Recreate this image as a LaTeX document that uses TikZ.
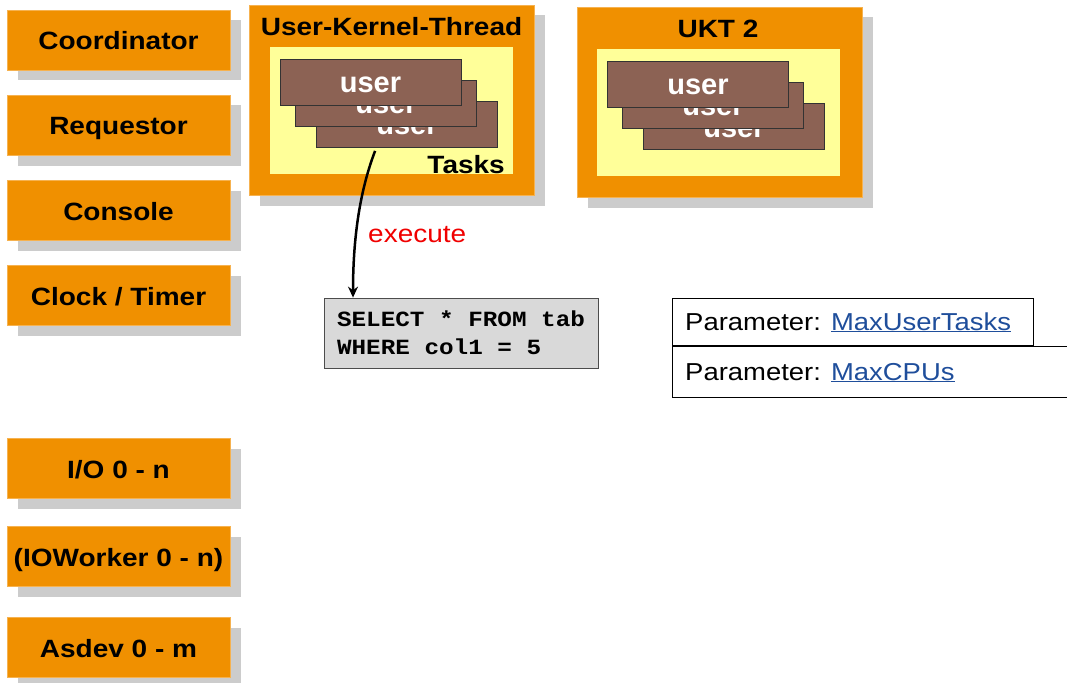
\documentclass[tikz,border=0pt]{standalone}
\usepackage{fontspec}
\setmainfont[FakeStretch=1.12]{Liberation Sans}
\newfontfamily\plainsans{Liberation Sans}
\newfontfamily\sqlfont[FakeStretch=1.12]{Liberation Mono}
\usetikzlibrary{shadows,arrows.meta,calc}
\definecolor{procorange}{RGB}{240,144,0}
\definecolor{procedge}{RGB}{246,178,80}
\definecolor{shadowgray}{RGB}{204,204,204}
\definecolor{taskyellow}{RGB}{255,255,153}
\definecolor{cardbrown}{RGB}{140,98,84}
\definecolor{sqlgray}{RGB}{217,217,217}
\definecolor{linkblue}{RGB}{31,78,155}
\definecolor{execred}{RGB}{240,0,0}
\tikzset{
  boxshadow/.style={general shadow={fill=shadowgray, shadow xshift=10.5pt, shadow yshift=-10.5pt}},
  procbox/.style={rectangle, fill=procorange, draw=procedge, line width=0.8pt, boxshadow,
     minimum width=223pt, minimum height=60pt, inner sep=0pt,
     font=\fontsize{25}{30}\selectfont\bfseries, text height=20pt, text depth=0pt},
  uktbox/.style={rectangle, fill=procorange, draw=procedge, line width=0.8pt, boxshadow,
     minimum width=285pt, minimum height=190pt, inner sep=0pt},
  taskarea/.style={rectangle, fill=taskyellow, minimum width=243pt, minimum height=127pt, inner sep=0pt},
  card/.style={rectangle, fill=cardbrown, draw=black!80, line width=0.8pt,
     minimum width=181pt, minimum height=46pt, inner sep=0pt, text=white,
     font=\plainsans\fontsize{29}{32}\selectfont\bfseries, text height=21pt, text depth=0pt},
  titletext/.style={anchor=base, inner sep=0pt, font=\fontsize{25}{30}\selectfont\bfseries},
  sqlbox/.style={rectangle, fill=sqlgray, draw=black!70, line width=0.8pt,
     minimum width=274pt, minimum height=70pt, inner sep=0pt, align=left,
     font=\sqlfont\fontsize{21.7}{28}\selectfont\bfseries},
  parambox/.style={rectangle, draw=black, line width=0.8pt, inner sep=0pt, anchor=north west},
  paramtext/.style={anchor=base west, inner sep=0pt, font=\fontsize{24.5}{28}\selectfont},
  flow/.style={-{Stealth[length=11pt,width=10pt]}, line width=2.5pt},
}
\newcommand{\lnk}[1]{\textcolor{linkblue}{\underline{#1}}}
\begin{document}
\begin{tikzpicture}[x=1pt, y=-1pt]
\useasboundingbox (0,0) rectangle (1067,682);
% left process boxes
\node[procbox] (coord) at (118.5,40) {Coordinator};
\node[procbox] (req) at (118.5,125) {Requestor};
\node[procbox] (cons) at (118.5,210) {Console};
\node[procbox] (clock) at (118.5,295) {Clock / Timer};
\node[procbox] (io) at (118.5,468.5) {I/O 0 - n};
\node[procbox] (iow) at (118.5,556.5) {(IOWorker 0 - n)};
\node[procbox] (asdev) at (118.5,647.5) {Asdev 0 - m};
% UKT 1
\node[uktbox] (ukt1) at (391.5,100) {};
\node[titletext] (ukt1title) at (391.5,35.5) {User-Kernel-Thread};
\node[taskarea] (ta1) at (391.5,110.5) {};
\node[card] (c13) at (407,124.5) {user};
\node[card] (c12) at (386,103) {user};
\node[card] (c11) at (370.5,82) {user};
\node[anchor=base east, inner sep=0pt, font=\fontsize{25}{30}\selectfont\bfseries] (tasks) at (505,173) {Tasks};
% UKT 2
\node[uktbox] (ukt2) at (719.5,102) {};
\node[titletext] (ukt2title) at (718,37.5) {UKT 2};
\node[taskarea] (ta2) at (718.5,112.5) {};
\node[card] (c23) at (734,126.5) {user};
\node[card] (c22) at (713,105.5) {user};
\node[card] (c21) at (698,84) {user};
% SQL statement
\node[sqlbox] (sql) at (461,333) {SELECT * FROM tab\\WHERE col1 = 5};
\coordinate (execstart) at ($(c13.south west)+(59,3)$);
\draw[flow] (execstart) .. controls (362,185) and (353,230) .. (sql.north -| 353,0);
\node[anchor=base west, inner sep=0pt, text=execred, font=\fontsize{25}{30}\selectfont] (exec) at (368,242) {execute};
% parameters
\node[parambox, minimum width=361pt, minimum height=47pt] (p1) at (672,298) {};
\node[parambox, minimum width=420pt, minimum height=51pt] (p2) at (p1.south west) {};
\node[paramtext] (p1t) at (685,330) {Parameter: \lnk{MaxUserTasks}};
\node[paramtext] (p2t) at (685,380) {Parameter: \lnk{MaxCPUs}};
\end{tikzpicture}
\end{document}
